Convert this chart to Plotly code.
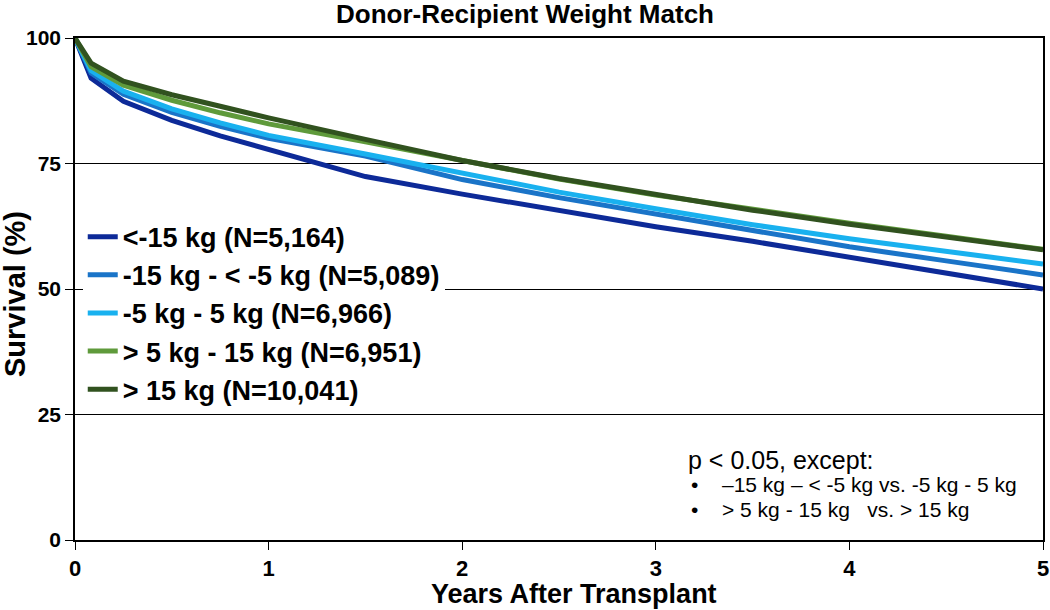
import plotly.graph_objects as go

years = [0, 0.083, 0.25, 0.5, 0.75, 1, 1.5, 2, 2.5, 3, 3.5, 4, 4.5, 5]

names = [
    "<-15 kg (N=5,164)",
    "-15 kg - < -5 kg (N=5,089)",
    "-5 kg - 5 kg (N=6,966)",
    "> 5 kg - 15 kg (N=6,951)",
    "> 15 kg (N=10,041)",
]
colors = ["#0d2a98", "#1a74c8", "#19b1ef", "#5f9a3b", "#31521f"]

surv_lt_m15 = [100, 92.0, 87.4, 83.6, 80.5, 77.8, 72.4, 68.9, 65.7, 62.4, 59.5, 56.4, 53.3, 50.0]
surv_m15_m5 = [100, 93.0, 88.8, 85.2, 82.4, 80.0, 76.5, 71.8, 68.2, 65.0, 61.7, 58.4, 55.6, 52.8]
surv_m5_5 = [100, 93.5, 89.4, 85.9, 83.1, 80.6, 76.9, 73.2, 69.3, 66.0, 62.8, 60.0, 57.5, 55.0]
surv_5_15 = [100, 94.3, 90.6, 87.6, 85.1, 82.9, 79.3, 75.5, 71.9, 68.7, 65.8, 63.1, 60.5, 57.9]
surv_gt_15 = [100, 95.0, 91.4, 88.7, 86.4, 84.1, 79.8, 75.6, 72.0, 68.8, 65.7, 62.9, 60.3, 57.8]

series = [surv_lt_m15, surv_m15_m5, surv_m5_5, surv_5_15, surv_gt_15]

x_ticks = [0, 1, 2, 3, 4, 5]
y_ticks = [0, 25, 50, 75, 100]

fig = go.Figure()
for i, (nm, col, ys) in enumerate(zip(names, colors, series)):
    fig.add_trace(go.Scatter(
        x=years, y=ys, mode="lines", name=f"<b>{nm}</b>",
        line=dict(color=col, width=5),
        legendgroup=f"g{i}",
    ))

FONT = "Liberation Sans"
W, H = 1050, 610
fig.update_layout(
    width=W, height=H,
    margin=dict(l=75, r=7, t=38, b=70, autoexpand=False),
    plot_bgcolor="white", paper_bgcolor="white",
    title=dict(text="<b>Donor-Recipient Weight Match</b>",
               x=0.5, xanchor="center",
               xref="container", yref="container",
               y=1 - 14 / H, yanchor="middle",
               font=dict(family=FONT, size=26, color="black")),
    xaxis=dict(range=[0, 5], tickvals=x_ticks,
               ticktext=[f"<b>{t}</b>" for t in x_ticks],
               ticks="outside", ticklen=8, tickcolor="black",
               showline=True, linecolor="black", linewidth=1.5, mirror=True,
               showgrid=False, zeroline=False, automargin=False,
               tickfont=dict(family=FONT, size=22, color="black")),
    yaxis=dict(range=[0, 100], tickvals=y_ticks,
               ticktext=[f"<b>{t}</b>" for t in y_ticks],
               ticks="outside", ticklen=8, tickcolor="black",
               showline=True, linecolor="black", linewidth=1.5, mirror=True,
               showgrid=True, gridcolor="black", gridwidth=1, zeroline=False,
               automargin=False,
               tickfont=dict(family=FONT, size=21, color="black")),
    legend=dict(x=0.008, y=0.652, xanchor="left", yanchor="top",
                bgcolor="white", borderwidth=0,
                font=dict(family=FONT, size=27, color="black"),
                tracegroupgap=3, itemwidth=30,
                traceorder="normal"),
    showlegend=True,
)

# axis titles
fig.add_annotation(xref="paper", yref="paper", x=(574 - 75) / 968, y=(540 - 594) / 502,
                   text="<b>Years After Transplant</b>", showarrow=False,
                   xanchor="center", yanchor="middle",
                   font=dict(family=FONT, size=27, color="black"))
fig.add_annotation(xref="paper", yref="paper", x=(15 - 75) / 968, y=(540 - 294) / 502,
                   text="<b>Survival (%)</b>", showarrow=False, textangle=-90,
                   xanchor="center", yanchor="middle",
                   font=dict(family=FONT, size=29, color="black"))

# p-value note
ann_font = dict(family=FONT, size=25, color="black")
small_font = dict(family=FONT, size=21, color="black")
fig.add_annotation(xref="paper", yref="paper", x=(686 - 75) / 968, y=(540 - 460) / 502,
                   text="p < 0.05, except:", showarrow=False, xanchor="left", yanchor="middle",
                   font=ann_font)
for yy, txt in [(484, "\u201315 kg \u2013 < -5 kg vs. -5 kg - 5 kg"),
                (509, "> 5 kg - 15 kg \u00a0 vs. > 15 kg")]:
    fig.add_annotation(xref="paper", yref="paper", x=(689 - 75) / 968, y=(540 - yy) / 502,
                       text="\u2022", showarrow=False, xanchor="left", yanchor="middle",
                       font=small_font)
    fig.add_annotation(xref="paper", yref="paper", x=(720 - 75) / 968, y=(540 - yy) / 502,
                       text=txt, showarrow=False, xanchor="left", yanchor="middle",
                       font=small_font)

# remove the default page margin so the figure fills the 1050x610 window
fig.write_html("out.html",
               config={"displayModeBar": False},
               post_script="document.body.style.margin='0';document.body.style.overflow='hidden';")
